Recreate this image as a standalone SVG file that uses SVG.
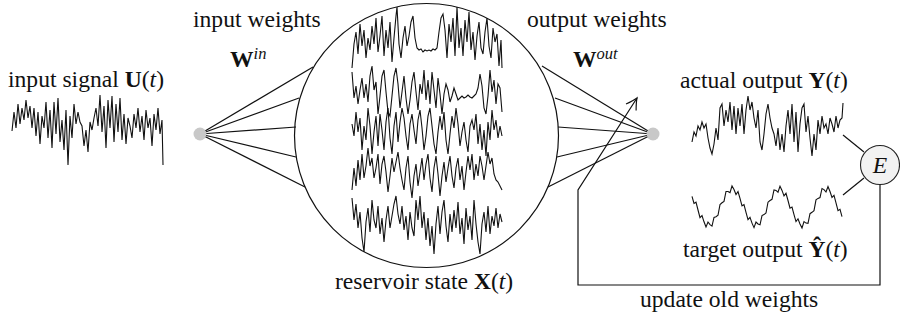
<svg xmlns="http://www.w3.org/2000/svg" width="900" height="324" viewBox="0 0 900 324">
  <style>
    text { font-family: "Liberation Serif", "DejaVu Serif", serif; font-size: 23.6px; fill: #111; }
    .b { font-weight: bold; }
    .i { font-style: italic; }
    .sup { font-style: italic; font-size: 16.5px; }
    .edge { fill: none; stroke: #111; stroke-width: 1.2; }
    .sig { fill: none; stroke: #111; stroke-width: 1.1; stroke-linejoin: miter; }
    .port { fill: #c8c8c8; stroke: none; }
  </style>
  <defs>
    <marker id="openArrow" markerUnits="userSpaceOnUse" markerWidth="16" markerHeight="16" viewBox="-12 -8 14 16" refX="0" refY="0" orient="auto" overflow="visible">
      <path d="M -11,-6 Q -4,-1.5 0,0 Q -4,1.5 -11,6" fill="none" stroke="#111" stroke-width="1.2"/>
    </marker>
  </defs>
  <rect width="900" height="324" fill="#fff"/>

  <!-- connectors -->
  <g id="connectors" class="edge">
    <line x1="200" y1="134" x2="313" y2="67"/>
    <line x1="200" y1="134" x2="299" y2="98"/>
    <line x1="200" y1="134" x2="296" y2="127"/>
    <line x1="200" y1="134" x2="296" y2="157"/>
    <line x1="200" y1="134" x2="305" y2="187"/>
    <line x1="653" y1="134" x2="542" y2="66"/>
    <line x1="653" y1="134" x2="555" y2="98"/>
    <line x1="653" y1="134" x2="558" y2="127"/>
    <line x1="653" y1="134" x2="557" y2="157"/>
    <line x1="653" y1="134" x2="548" y2="187"/>
    <line x1="843" y1="135" x2="864" y2="152"/>
    <line x1="843" y1="195" x2="864" y2="178"/>
    <polyline points="880,185 880,285 578,285 578,190 637,98" marker-end="url(#openArrow)"/>
  </g>

  <!-- input signal -->
  <g id="input-signal">
    <text x="8" y="87">input signal <tspan class="b">U</tspan>(<tspan class="i">t</tspan>)</text>
    <polyline class="sig" points="12,131 14,112 16,128 18,104 20,124 22,108 24,120 26,100 28,118 30,106 32,128 34,108 36,136 38,112 40,144 42,116 44,128 46,102 48,138 50,110 52,148 54,102 56,134 58,98 60,142 62,120 64,150 66,110 68,165 70,116 72,138 74,104 76,124 78,112 80,122 82,126 84,146 86,130 88,152 90,122 92,130 94,118 96,108 98,126 100,95 102,132 104,106 106,148 108,100 110,128 112,96 114,142 116,104 118,132 120,98 122,140 124,114 126,144 128,118 130,126 132,138 134,114 136,128 138,108 140,132 142,116 144,140 146,110 148,128 150,118 152,146 154,114 156,130 158,108 160,134 162,120 163,165"/>
  </g>

  <!-- input node -->
  <g id="input-node">
    <circle class="port" cx="200" cy="134" r="6.5"/>
    <text x="193" y="27">input weights</text>
    <text x="230" y="67"><tspan class="b">W</tspan><tspan class="sup" dy="-8">in</tspan></text>
  </g>

  <!-- reservoir -->
  <g id="reservoir">
    <circle cx="426.5" cy="135.5" r="132" fill="none" stroke="#111" stroke-width="1.2"/>
    <polyline class="sig" points="352,68 354,44 356,32 358,54 360,24 362,46 364,30 366,58 368,38 370,50 372,26 374,44 376,18 378,52 380,36 382,16 384,56 386,30 388,48 390,22 392,62 394,38 396,16 397,7 399,44 401,58 403,38 405,26 407,46 409,36 411,22 413,16 415,38 417,48 419,50 421,49 423,52 425,50 427,51 429,50 431,51 433,49 435,50 437,48 439,32 441,18 443,14 445,30 447,58 449,24 451,42 453,18 455,56 457,7 459,48 461,28 463,56 465,20 467,42 469,12 471,50 473,32 475,60 477,36 479,22 481,48 483,54 485,32 487,18 489,46 491,58 493,28 495,42 497,34 499,66 501,40 502,68"/>
    <polyline class="sig" points="352,72 354,98 356,86 358,104 360,90 362,78 364,98 366,84 368,102 370,76 372,66 374,90 376,82 378,114 380,96 382,76 384,70 386,92 388,112 390,116 392,96 394,76 396,68 398,84 400,108 402,92 404,76 406,98 408,114 410,100 412,82 414,72 416,92 418,110 420,84 422,94 424,70 426,100 428,80 430,104 432,72 434,90 436,108 438,78 440,94 442,114 444,94 446,84 448,90 450,102 452,96 454,88 456,94 458,100 460,98 462,96 464,98 466,97 468,95 470,97 472,98 474,96 476,94 478,88 480,74 482,86 484,108 486,114 488,96 490,70 492,92 494,80 496,104 498,84 500,88 502,112"/>
    <polyline class="sig" points="352,124 354,136 356,112 358,132 360,118 362,150 364,126 366,140 368,108 370,126 372,154 374,132 376,116 378,146 380,114 382,130 384,150 386,122 388,108 390,138 392,154 394,126 396,112 398,142 400,122 402,108 404,118 406,136 408,150 410,124 412,114 414,130 416,144 418,120 420,110 422,128 424,150 426,136 428,116 430,108 432,126 434,144 436,154 438,132 440,116 442,130 444,112 446,140 448,154 450,134 452,116 454,128 456,108 458,124 460,146 462,132 464,122 466,140 468,152 470,126 472,120 474,130 476,114 478,144 480,124 482,150 484,130 486,156 488,122 490,140 492,110 494,130 496,120 498,138 500,126 502,136"/>
    <polyline class="sig" points="352,190 354,168 356,186 358,160 360,180 362,154 364,178 366,166 368,148 370,166 372,158 374,178 376,168 378,154 380,184 382,164 384,156 386,172 388,192 390,176 392,158 394,172 396,162 398,152 400,168 402,180 404,190 406,168 408,156 410,182 412,198 414,176 416,164 418,186 420,172 422,158 424,180 426,164 428,154 430,178 432,192 434,168 436,156 438,174 440,196 442,176 444,162 446,182 448,168 450,156 452,176 454,188 456,168 458,158 460,180 462,166 464,190 466,172 468,156 470,170 472,154 474,180 476,164 478,176 480,156 482,166 484,180 486,166 488,152 490,164 492,158 494,174 496,180 498,182 500,186 502,190"/>
    <polyline class="sig" points="352,198 354,220 356,204 358,228 360,212 362,238 364,252 366,222 368,208 370,232 372,200 374,220 376,228 378,206 380,234 382,218 384,242 386,220 388,206 390,228 392,216 394,204 396,196 398,214 400,224 402,206 404,230 406,216 408,240 410,212 412,228 414,236 416,200 418,220 420,196 422,228 424,212 426,240 428,218 430,246 432,226 434,254 436,224 438,206 440,234 442,212 444,200 446,226 448,242 450,214 452,232 454,210 456,228 458,202 460,234 462,218 464,244 466,208 468,230 470,216 472,240 474,200 476,224 478,242 480,254 482,224 484,212 486,232 488,206 490,234 492,216 494,226 496,208 498,228 500,214 502,222"/>
    <text x="335" y="289">reservoir state <tspan class="b">X</tspan>(<tspan class="i">t</tspan>)</text>
  </g>

  <!-- output node -->
  <g id="output-node">
    <circle class="port" cx="653" cy="134" r="6.5"/>
    <text x="527" y="27">output weights</text>
    <text x="573" y="67"><tspan class="b">W</tspan><tspan class="sup" dy="-8">out</tspan></text>
  </g>

  <!-- actual output -->
  <g id="actual-output">
    <text x="680" y="88">actual output <tspan class="b">Y</tspan>(<tspan class="i">t</tspan>)</text>
    <polyline class="sig" points="692,142 694,132 696,136 698,126 700,130 702,122 704,128 706,124 708,138 710,148 712,154 714,144 716,128 718,140 720,108 722,104 724,126 726,110 728,122 730,102 732,130 734,106 736,134 738,108 740,126 742,104 744,134 746,110 748,96 750,110 752,102 754,118 756,128 758,110 760,142 762,150 764,134 766,114 768,104 770,118 772,128 774,134 776,146 778,128 780,150 782,134 784,152 786,126 788,110 790,134 792,104 794,142 796,112 798,152 800,124 802,108 804,104 806,132 808,116 810,138 812,156 814,134 816,150 818,120 820,134 822,116 824,128 826,124 828,134 830,118 832,124 834,132 836,116 838,128 840,120 842,118 843,103"/>
  </g>

  <!-- target output: periodic wave with a fine ripple -->
  <g id="target-output">
    <polyline class="sig" points="692,196.3 694,203.5 696,202.2 698,210 700,217.6 702,215.6 704,221.8 706,227 708,222 710,224.6 712,226.1 714,217.4 716,216.7 718,215.3 720,204.6 722,202.8 724,201.4 726,191.5 728,191.5 730,192.6 732,186 734,189.6 736,194.5 738,191.5 740,198.4 742,205.8 744,204.6 746,212.3 748,219.7 750,217.4 752,223.1 754,227.6 756,222 758,224 760,224.8 762,215.6 764,214.6 766,213 768,202.2 770,200.5 772,199.3 774,189.9 776,190.4 778,192.2 780,186.2 782,190.4 784,195.9 786,193.3 788,200.5 790,208.2 792,207 794,214.6 796,221.6 798,218.8 800,224 802,228 804,221.6 806,223.1 808,223.4 810,213.7 812,212.3 814,210.6 816,199.8 818,198.4 820,197.5 822,188.5 824,189.6 826,192 828,186.6 830,191.5 832,197.5 834,195.4 836,202.8 838,210.6 840,209.3 842,216.7"/>
    <text x="683" y="257">target output <tspan class="b">Ŷ</tspan>(<tspan class="i">t</tspan>)</text>
  </g>

  <!-- error node -->
  <g id="error-node">
    <circle cx="880" cy="165" r="19.5" fill="#f2f2f2" stroke="#222" stroke-width="1.1"/>
    <text class="i" x="880" y="173" text-anchor="middle">E</text>
  </g>

  <!-- feedback label -->
  <g id="update-label">
    <text x="640" y="307">update old weights</text>
  </g>
</svg>
